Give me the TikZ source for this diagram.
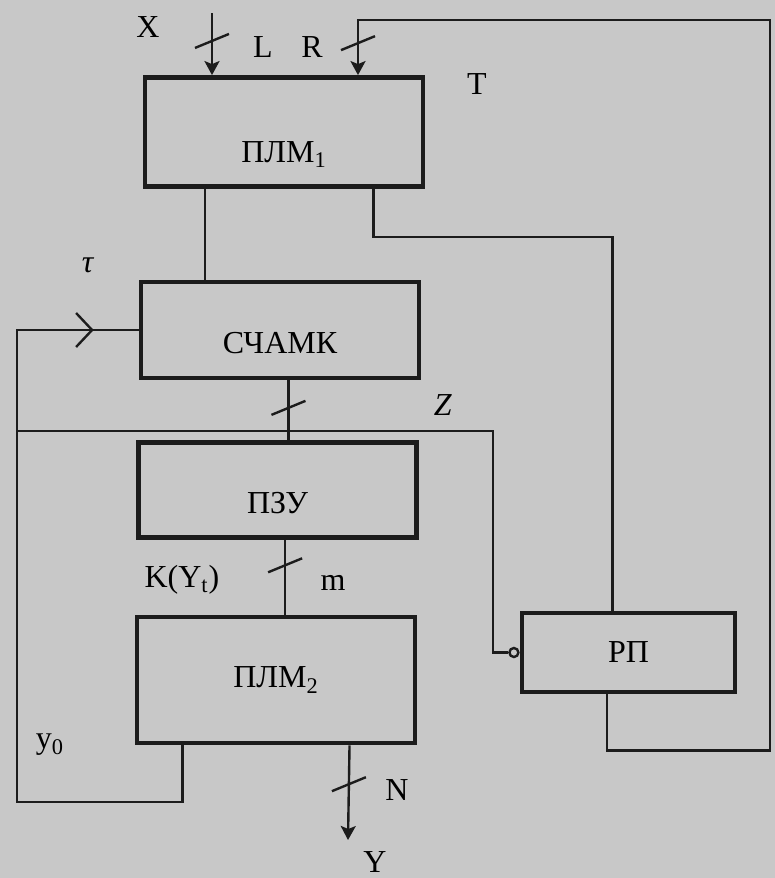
\documentclass[tikz,border=0pt]{standalone}
\usepackage{fontspec}
\setmainfont{Liberation Serif}
\usetikzlibrary{arrows.meta, positioning, calc, decorations.markings}
\definecolor{paperGray}{HTML}{C8C8C8}
\definecolor{inkBlack}{HTML}{1C1C1C}
\tikzset{
  scheme/.style = {
    font=\fontsize{16}{19}\selectfont,
  },
  blk/.style = {
    rectangle, draw=inkBlack, line width=2.4pt,
    inner sep=0pt, align=center,
  },
  sig/.style = {draw=inkBlack, line width=1.2pt},
  arr/.style = {sig, -{Stealth[length=7pt, width=7.5pt, inset=1.5pt]}},
  midarr/.style = {sig, postaction=decorate, decoration={markings,
      mark=at position #1 with {\arrow{Straight Barb[length=8pt, width=17pt, line width=1.2pt]}}}},
  inv/.style = {circle, draw=inkBlack, line width=1.2pt, minimum size=4.5pt, inner sep=0pt},
  lbl/.style = {inner sep=1pt},
  busmark/.pic = {\draw[sig, -] (-17,7) -- (17,-7);},
}

\begin{document}
\begin{tikzpicture}[scheme, x=0.5pt, y=-0.5pt,
  wide/.style = {blk, minimum width=139pt},
  low/.style = {text depth=0pt, text height=#1}]

\fill[paperGray] (0,0) rectangle (775,878);
\useasboundingbox (0,0) rectangle (775,878);

% blocks
\node[wide, low=30pt, minimum height=54.5pt] (plm1) at (284,132)   {ПЛМ\textsubscript{1}};
\node[wide, low=23pt, minimum height=48pt]   (cham) at (280,330)   {СЧАМК};
\node[wide, low=23pt, minimum height=47.5pt] (pzu)  at (277.5,490) {ПЗУ};
\node[wide, minimum height=63pt]             (plm2) at (276,680)   {ПЛМ\textsubscript{2}};
\node[blk, minimum width=106.5pt, minimum height=39.5pt] (rp) at (628.5,652.5) {РП};
\node[inv, anchor=east] (inv) at (rp.west) {};

% ends and corners
\coordinate (xin)  at (212,13);
\coordinate (rtop) at (358,20);
\coordinate (rcor) at (770,20);
\coordinate (lcor) at (17,802);
\coordinate (jn)   at (17,431);
\coordinate (yout) at (348,840);
\coordinate (o1) at ($(plm1.south west)!0.22!(plm1.south east)$);
\coordinate (o2) at ($(plm1.south west)!0.817!(plm1.south east)$);
\coordinate (i2) at ($(rp.north west)!0.427!(rp.north east)$);
\coordinate (o3) at ($(cham.south west)!0.53!(cham.south east)$);
\coordinate (o4) at ($(pzu.south west)!0.527!(pzu.south east)$);
\coordinate (o5) at ($(plm2.south west)!0.17!(plm2.south east)$);
\coordinate (o6) at ($(plm2.south west)!0.76!(plm2.south east)$);
\coordinate (o7) at ($(rp.south west)!0.40!(rp.south east)$);

% connectors
\draw[arr] (xin) -- (xin |- plm1.north) pic[pos=0.45]{busmark};
\draw[arr] (o7) -- ++(0,56) -| (rcor) -- (rtop) -- (rtop |- plm1.north) pic[pos=0.42]{busmark};
\draw[sig] (o1) -- (o1 |- cham.north);
\draw[sig] (o2) -- ++(0,48) -| (i2);
\draw[sig] (o3) -- (o3 |- pzu.north) pic[pos=0.46]{busmark};
\draw[sig] (o4) -- (o4 |- plm2.north) pic[pos=0.34]{busmark};
\draw[midarr=0.945] (o5) |- (lcor) |- (cham.west);
\draw[sig] (jn) -- ++(476,0) |- (inv.west);
\draw[arr] (o6) -- (yout) pic[pos=0.41]{busmark};

% labels
\node[lbl] (lx)   at (148,27)  {X};
\node[lbl] (ll)   at (263,47)  {L};
\node[lbl] (lr)   at (312,47)  {R};
\node[lbl] (lt)   at (477,84)  {T};
\node[lbl] (ltau) at (88,265)  {\textit{τ}};
\node[lbl] (lz)   at (443,405) {\textit{Z}};
\node[lbl] (lk)   at (182,580) {K(Y\textsubscript{t})};
\node[lbl] (lm)   at (333,583) {m};
\node[lbl] (ly0)  at (50,745)  {y\textsubscript{0}};
\node[lbl] (ln)   at (397,790) {N};
\node[lbl] (ly)   at (375,862) {Y};

\end{tikzpicture}
\end{document}
